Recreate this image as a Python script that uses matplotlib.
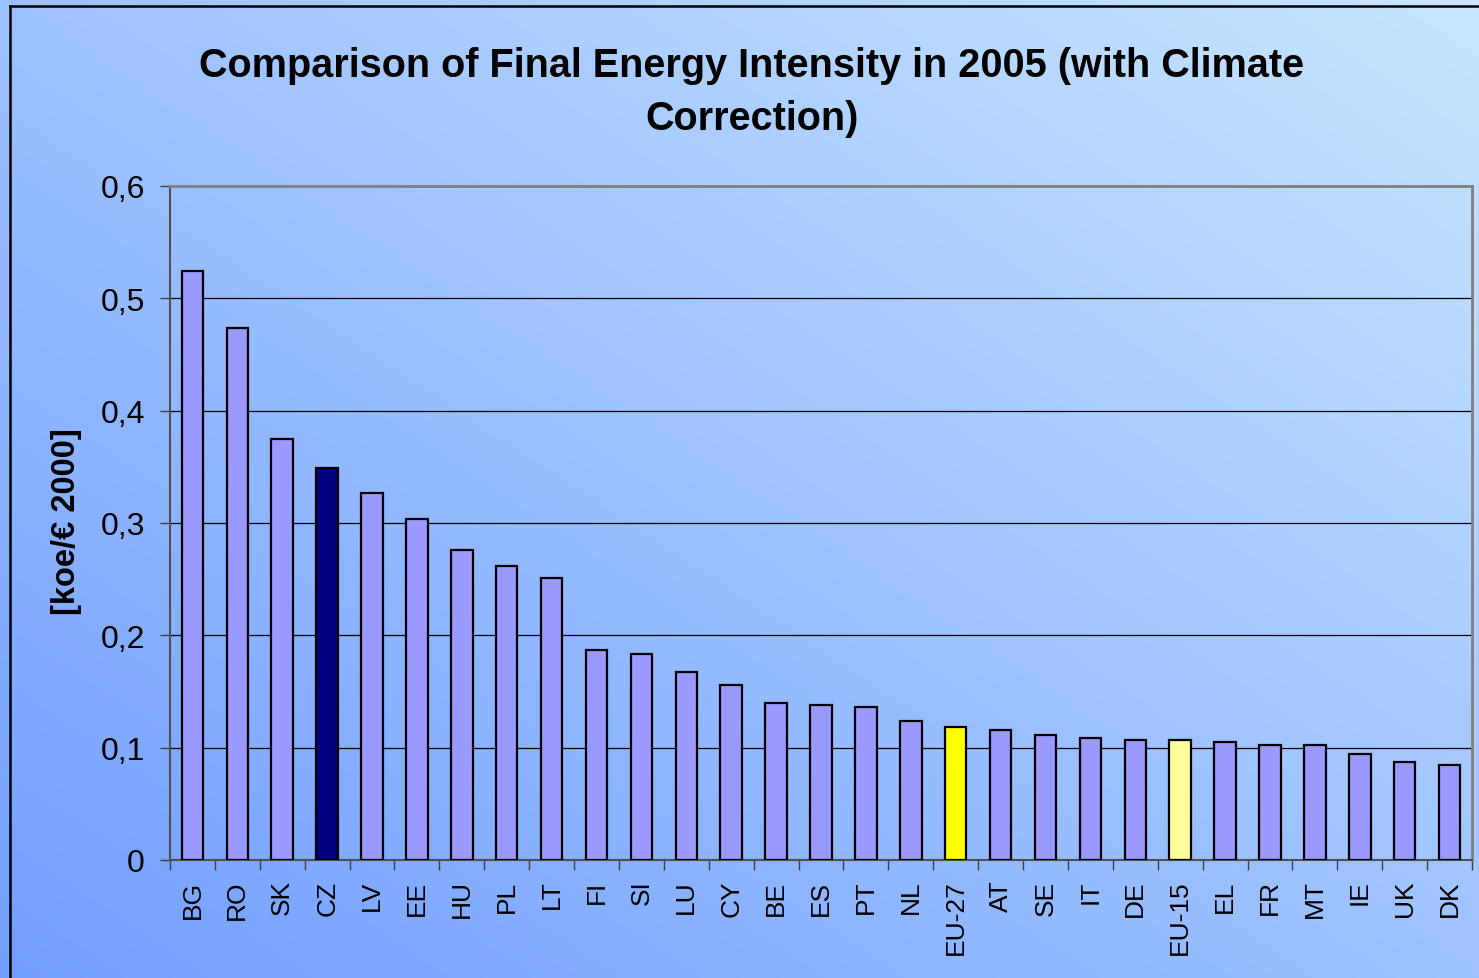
import numpy as np
import matplotlib
matplotlib.use('Agg')
import matplotlib.pyplot as plt
from matplotlib.ticker import FuncFormatter, MultipleLocator

plt.rcParams['font.family'] = ['Liberation Sans', 'DejaVu Sans']

# Data
countries = ['BG', 'RO', 'SK', 'CZ', 'LV', 'EE', 'HU', 'PL', 'LT', 'FI',
             'SI', 'LU', 'CY', 'BE', 'ES', 'PT', 'NL', 'EU-27', 'AT', 'SE',
             'IT', 'DE', 'EU-15', 'EL', 'FR', 'MT', 'IE', 'UK', 'DK']
intensity = [0.524, 0.474, 0.375, 0.349, 0.327, 0.304, 0.276, 0.262, 0.251, 0.187,
             0.183, 0.167, 0.156, 0.140, 0.138, 0.136, 0.124, 0.118, 0.116, 0.111,
             0.109, 0.107, 0.107, 0.105, 0.102, 0.102, 0.094, 0.087, 0.085]
highlight = {'CZ': '#000080', 'EU-27': '#FFFF00', 'EU-15': '#FFFF99'}
default_color = '#9999FF'

W, H = 1479, 979
fig = plt.figure(figsize=(W/100, H/100), dpi=100)

# diagonal gradient background (bottom-left darker -> top-right lighter)
bg = fig.add_axes([0, 0, 1, 1], zorder=-10)
xx, yy = np.meshgrid(np.linspace(0, 1, 300), np.linspace(1, 0, 200))
t = (xx + yy) / 2
c0 = np.array([114, 158, 255]) / 255.
c1 = np.array([200, 230, 255]) / 255.
img = c0[None, None, :] * (1 - t[..., None]) + c1[None, None, :] * t[..., None]
bg.imshow(img, extent=[0, 1, 0, 1], aspect='auto', origin='upper')
bg.set_xlim(0, 1)
bg.set_ylim(0, 1)
bg.axis('off')

# outer chart border (left and top visible)
bg.plot([10/W, 10/W], [0, 1 - 7/H], color='black', lw=1.8)
bg.plot([10/W, 1], [1 - 7/H, 1 - 7/H], color='black', lw=1.8)

ax = fig.add_axes([170/W, 1 - 861/H, (1472-170)/W, (861-187)/H])
ax.patch.set_alpha(0)

x = np.arange(len(countries))
colors = [highlight.get(c, default_color) for c in countries]
ax.bar(x, intensity, width=0.48, color=colors, edgecolor='black', linewidth=1.6, zorder=3)

ax.set_xlim(-0.5, len(countries) - 0.5)
ax.set_ylim(0, 0.6)
ax.yaxis.set_major_locator(MultipleLocator(0.1))
ax.yaxis.set_major_formatter(FuncFormatter(lambda v, p: ('%.1f' % v).replace('.', ',') if v > 0 else '0'))
ax.grid(axis='y', color='black', linewidth=0.9, zorder=1)
ax.set_axisbelow(True)

ax.set_xticks(x)
ax.set_xticklabels(countries, rotation=90, fontsize=19)
ax.set_xticks(np.arange(len(countries) + 1) - 0.5, minor=True)
ax.tick_params(axis='x', which='major', length=0, pad=14)
ax.tick_params(axis='x', which='minor', length=7, width=1, color='#404040')
ax.tick_params(axis='y', labelsize=23, length=7, width=1, color='#404040', pad=11)

for side in ['top', 'right']:
    ax.spines[side].set_color('#808080')
    ax.spines[side].set_linewidth(2)
for side in ['left', 'bottom']:
    ax.spines[side].set_color('#505050')
    ax.spines[side].set_linewidth(1.5)

fig.text(752/W, 1 - 66/H, 'Comparison of Final Energy Intensity in 2005 (with Climate',
         ha='center', va='center', fontsize=28.5, fontweight='bold')
fig.text(752/W, 1 - 119/H, 'Correction)',
         ha='center', va='center', fontsize=28.5, fontweight='bold')
fig.text(67/W, 1 - 522/H, '[koe/€ 2000]', rotation=90, ha='center', va='center',
         fontsize=23.5, fontweight='bold')

fig.savefig('out.png', dpi=100)
